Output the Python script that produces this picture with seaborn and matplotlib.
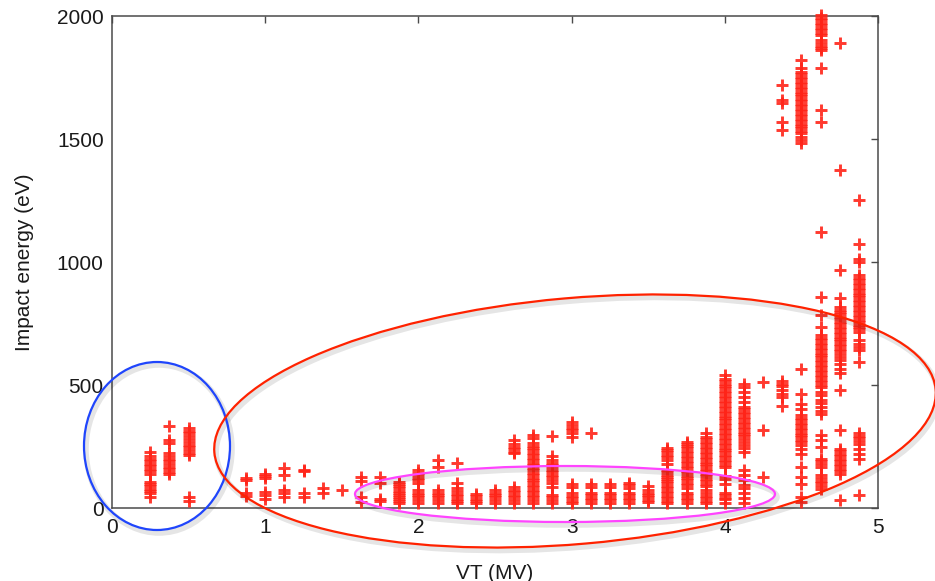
import matplotlib
matplotlib.use("Agg")
import matplotlib.pyplot as plt
from matplotlib.patches import Ellipse
import seaborn as sns
import pandas as pd

# ---------------- data (VT in MV, impact energy in eV) ----------------
vt_columns = [0.25, 0.375, 0.5, 0.875, 1.0, 1.125, 1.25, 1.375, 1.5, 1.625, 1.75,
              1.875, 2.0, 2.125, 2.25, 2.375, 2.5, 2.625, 2.75, 2.875, 3.0, 3.125,
              3.25, 3.375, 3.5, 3.625, 3.75, 3.875, 4.0, 4.125, 4.25, 4.375, 4.5,
              4.625, 4.75, 4.875]

e_0250 = [228, 211, 200, 190, 180, 170, 160, 152, 140, 107, 97, 88, 78, 68, 60, 46]
e_0375 = [332, 276, 263, 223, 212, 200, 190, 178, 168, 157, 147, 138]
e_0500 = [325, 314, 303, 292, 281, 270, 258, 247, 236, 225, 217, 45, 30]
e_0875 = [122, 112, 62, 50]
e_1000 = [140, 130, 122, 66, 53, 38]
e_1125 = [161, 134, 73, 60, 46]
e_1250 = [154, 150, 60, 45]
e_1375 = [80, 62]
e_1500 = [73]
e_1625 = [127, 110, 46, 26]
e_1750 = [127, 103, 36, 30]
e_1875 = [105, 96, 88, 80, 70, 60, 52, 44, 36, 28, 20]
e_2000 = [153, 143, 133, 122, 112, 100, 73, 63, 53, 43, 33, 22]
e_2125 = [195, 168, 73, 63, 53, 43, 33, 22]
e_2250 = [182, 100, 82, 68, 58, 48, 38, 28, 20]
e_2375 = [57, 47, 37, 27, 20]
e_2500 = [73, 63, 53, 43, 33, 22]
e_2625 = [276, 262, 250, 240, 228, 222, 87, 74, 64, 54, 44, 34, 22]
e_2750 = [296, 285, 264, 254, 244, 234, 224, 214, 204, 194, 184, 174, 164, 154,
          144, 134, 124, 114, 104, 94, 84, 74, 64, 54, 44, 34, 22]
e_2875 = [292, 211, 195, 185, 175, 165, 155, 145, 135, 125, 113, 100, 87, 54, 44,
          34, 22]
e_3000 = [350, 337, 327, 316, 304, 290, 96, 84, 60, 50, 40, 30, 22]
e_3125 = [303, 96, 84, 62, 52, 42, 32, 22]
e_3250 = [96, 84, 62, 52, 42, 32, 22]
e_3375 = [103, 92, 80, 62, 52, 42, 32, 22]
e_3500 = [89, 73, 63, 53, 43, 33, 24]
e_3625 = [242, 236, 226, 216, 208, 195, 181, 154, 145, 136, 127, 120, 110, 100,
          90, 80, 70, 60, 50, 40, 30, 20]
e_3750 = [270, 262, 252, 242, 232, 222, 212, 202, 192, 182, 172, 162, 152, 142,
          132, 122, 112, 102, 92, 80, 62, 52, 42, 32, 20]
e_3875 = [303, 289, 279, 269, 259, 249, 239, 229, 219, 209, 199, 189, 179, 169,
          159, 149, 139, 129, 119, 109, 99, 89, 73, 60, 50, 40, 30, 20]
e_4000 = [540, 526, 516, 506, 496, 486, 476, 466, 456, 446, 436, 426, 416, 406,
          396, 386, 376, 366, 356, 346, 336, 326, 316, 306, 296, 286, 276, 266,
          256, 246, 236, 226, 216, 206, 196, 186, 176, 168, 130, 116, 96, 62, 52,
          42, 35, 19]
e_4125 = [506, 492, 472, 452, 432, 411, 401, 391, 381, 371, 361, 351, 341, 331,
          321, 311, 301, 291, 281, 269, 256, 242, 229, 154, 134, 114, 93, 80, 60,
          39, 19]
e_4250 = [512, 317, 127]
e_4375 = [1719, 1658, 1645, 1570, 1536, 515, 505, 496, 478, 465, 452, 416]
e_4500 = [1821, 1787, 1773, 1763, 1753, 1743, 1733, 1723, 1713, 1703, 1693, 1683,
          1673, 1663, 1653, 1643, 1633, 1623, 1613, 1603, 1593, 1583, 1573, 1563,
          1553, 1543, 1533, 1523, 1509, 1495, 1482,
          567, 465, 424, 404, 377, 367, 357, 347, 337, 327, 317, 307, 297, 287,
          277, 267, 257, 241, 221, 167, 126, 99, 45, 24]
e_4625 = [2003, 1993, 1983, 1973, 1963, 1953, 1943, 1933, 1922, 1902, 1889, 1879,
          1870, 1861, 1787, 1617, 1570, 1122, 858, 784, 736, 702, 692, 682, 672,
          662, 652, 642, 632, 622, 612, 602, 592, 582, 572, 562, 552, 542, 532,
          522, 512, 502, 492, 472, 458, 440, 425, 410, 395, 384, 296, 275, 248,
          201, 190, 178, 167, 133, 122, 111, 100, 90, 79]
e_4750 = [1889, 1373, 967, 852, 817, 807, 797, 787, 777, 767, 757, 747, 737, 727,
          717, 707, 697, 687, 677, 667, 657, 647, 637, 627, 614, 601, 585, 565,
          547, 479, 316, 241, 231, 221, 211, 201, 191, 181, 171, 160, 150, 140, 31]
e_4875 = [1251, 1075, 1014, 1000, 946, 936, 926, 916, 906, 896, 886, 876, 866, 856,
          846, 836, 826, 816, 806, 796, 786, 776, 766, 756, 746, 736, 726, 716,
          682, 668, 655, 641, 594, 303, 293, 283, 272, 262, 241, 221, 201, 52]

energy_columns = [e_0250, e_0375, e_0500, e_0875, e_1000, e_1125, e_1250, e_1375,
                  e_1500, e_1625, e_1750, e_1875, e_2000, e_2125, e_2250, e_2375,
                  e_2500, e_2625, e_2750, e_2875, e_3000, e_3125, e_3250, e_3375,
                  e_3500, e_3625, e_3750, e_3875, e_4000, e_4125, e_4250, e_4375,
                  e_4500, e_4625, e_4750, e_4875]

x_ticks = [0, 1, 2, 3, 4, 5]
y_ticks = [0, 500, 1000, 1500, 2000]

rows = []
for vt, energies in zip(vt_columns, energy_columns):
    for e in energies:
        rows.append((vt, e))
df = pd.DataFrame(rows, columns=["VT", "E"])

# ---------------- style ----------------
sns.set_style("white")
plt.rcParams["font.family"] = ["Liberation Sans", "DejaVu Sans"]

fig = plt.figure(figsize=(9.35, 5.81), dpi=100)
ax = fig.add_axes([0.1198, 0.1256, 0.8193, 0.8468])

sns.scatterplot(data=df, x="VT", y="E", marker="+", s=80, color="#ff2418",
                linewidth=2.1, alpha=0.9, ax=ax, clip_on=False, zorder=3)

ax.set_xlim(0, 5)
ax.set_ylim(0, 2000)
ax.set_xticks(x_ticks)
ax.set_yticks(y_ticks)
ax.set_xticklabels([str(v) for v in x_ticks])
ax.set_yticklabels([str(v) for v in y_ticks])

for sp in ax.spines.values():
    sp.set_visible(True)
    sp.set_color("#4a4a4a")
    sp.set_linewidth(1.1)

ax.tick_params(axis="both", direction="in", length=5, width=1.0, color="#4a4a4a",
               labelsize=15, labelcolor="#1a1a1a", top=True, right=True)
ax.tick_params(axis="x", pad=7)
ax.tick_params(axis="y", pad=6)

ax.set_xlabel("VT (MV)", fontsize=15, color="#1a1a1a")
ax.set_ylabel("Impact energy (eV)", fontsize=15, color="#1a1a1a")
ax.xaxis.set_label_coords(0.5, -0.113)
ax.yaxis.set_label_coords(-0.102, 0.5)

# ---------------- hand-drawn highlight ellipses (pixel coords, top-left origin) ----
H = 581.0
def add_ellipse(cx, cy, w, h, angle, color):
    sh = Ellipse(((cx + 2) / 100.0, (H - cy - 3) / 100.0), w / 100.0, h / 100.0,
                 angle=angle, fill=False, edgecolor="#000000", alpha=0.10,
                 linewidth=4.0, transform=fig.dpi_scale_trans, zorder=4)
    fig.add_artist(sh)
    el = Ellipse((cx / 100.0, (H - cy) / 100.0), w / 100.0, h / 100.0,
                 angle=angle, fill=False, edgecolor=color, linewidth=1.6,
                 transform=fig.dpi_scale_trans, zorder=5)
    fig.add_artist(el)

add_ellipse(157, 446, 146, 168, 0, "#1f45fc")
add_ellipse(575, 421, 724, 246, 5, "#ff2200")
add_ellipse(565, 494, 420, 56, 0, "#ff44ff")

fig.savefig("out.png", dpi=100)
